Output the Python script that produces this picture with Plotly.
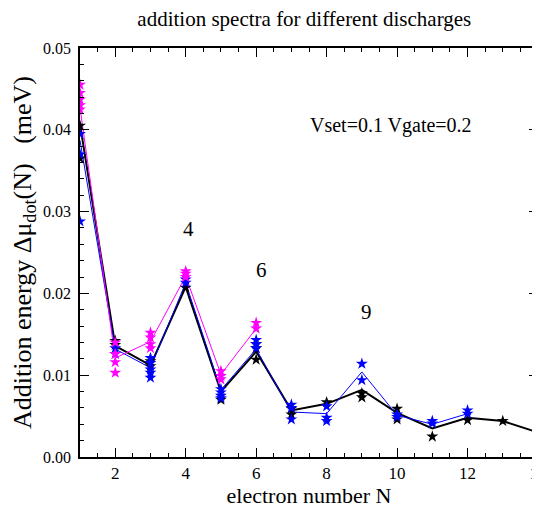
import plotly.graph_objects as go

# ---------------- data ----------------
magenta_N = [1, 2, 3, 4, 5, 6]
magenta_line = [0.0427, 0.0121, 0.0141, 0.0221, 0.0101, 0.0157]
magenta_pts = [[0.0455, 0.0445, 0.0437, 0.0430, 0.0425],
               [0.0140, 0.0126, 0.0116, 0.0103],
               [0.0152, 0.0146, 0.0138, 0.0133],
               [0.0227, 0.0224, 0.0220],
               [0.0105, 0.0099, 0.0095],
               [0.0164, 0.0157]]

blue_N = [1, 2, 3, 4, 5, 6, 7, 8, 9, 10, 11, 12]
blue_line = [0.0387, 0.0132, 0.0109, 0.0213, 0.0082, 0.0132,
             0.0055, 0.0053, 0.0104, 0.0051, 0.0040, 0.0053]
blue_pts = [[0.0395, 0.0370, 0.0288],
            [0.0133, 0.0126],
            [0.0121, 0.0115, 0.0107, 0.0103, 0.0097],
            [0.0217, 0.0213],
            [0.0083, 0.0079, 0.0075, 0.0072],
            [0.0143, 0.0138, 0.0133],
            [0.0064, 0.0060, 0.0046],
            [0.0062, 0.0048, 0.0044],
            [0.0114, 0.0094],
            [0.0052, 0.0049],
            [0.0044, 0.0041],
            [0.0057, 0.0053]]

black_N = [1, 2, 3, 4, 5, 6, 7, 8, 9, 10, 11, 12, 13, 14]
black_line = [0.0407, 0.0136, 0.0112, 0.0208, 0.0080, 0.0129, 0.0057,
              0.0065, 0.0082, 0.0054, 0.0035, 0.0048, 0.0044, 0.0030]
black_pts = [[0.0405, 0.0365],
             [0.0142, 0.0137],
             [0.0117, 0.0111],
             [0.0207],
             [0.0070],
             [0.0138, 0.0133, 0.0119],
             [0.0059, 0.0052],
             [0.0067],
             [0.0078, 0.0073],
             [0.0059, 0.0046],
             [0.0025],
             [0.0045],
             [0.0044],
             [0.0030]]

labels_N = [4.09, 6.14, 9.13]
labels_y = [0.0279, 0.0229, 0.0177]
labels_text = ["4", "6", "9"]

x_ticks = [2, 4, 6, 8, 10, 12, 14]

FONT = "Liberation Serif"
NB = "\u00a0"

fig = go.Figure()

series = [
    ("black", black_N, black_line, black_pts, 2.0),
    ("#0000ff", blue_N, blue_line, blue_pts, 1.0),
    ("#ff00ff", magenta_N, magenta_line, magenta_pts, 1.0),
]

for color, N, line, pts, w in series:
    fig.add_trace(go.Scatter(x=N, y=line, mode="lines",
                             line=dict(color=color, width=w),
                             showlegend=False, hoverinfo="skip"))
for color, N, line, pts, w in series:
    xs, ys = [], []
    for n, vals in zip(N, pts):
        for v in vals:
            xs.append(n)
            ys.append(v)
    fig.add_trace(go.Scatter(x=xs, y=ys, mode="markers",
                             marker=dict(symbol="star", size=9, color=color,
                                         line=dict(width=0)),
                             showlegend=False))

for n, y, t in zip(labels_N, labels_y, labels_text):
    fig.add_annotation(x=n, y=y, text=t, showarrow=False,
                       font=dict(family=FONT, size=21, color="black"),
                       xanchor="center", yanchor="middle")

fig.add_annotation(x=9.83, y=0.0405, text="Vset=0.1 Vgate=0.2", showarrow=False,
                   font=dict(family=FONT, size=20, color="black"),
                   xanchor="center", yanchor="middle")

# the page body has an 8px margin; figure sized so the plot area lands at
# x 80..538, y 48..457 of the 540x509 window
fig.update_layout(
    width=532, height=501,
    margin=dict(l=72, r=2, t=40, b=52, autoexpand=False),
    paper_bgcolor="white", plot_bgcolor="white",
    font=dict(family=FONT, size=16, color="black"),
    title=dict(text="addition spectra for different discharges",
               x=0.557, xanchor="center", y=0.979, yanchor="middle",
               font=dict(family=FONT, size=21, color="black")),
    showlegend=False,
)

fig.update_xaxes(
    range=[1, 14], tickmode="array", tickvals=x_ticks,
    ticks="inside", ticklen=9, tickwidth=1, tickcolor="black",
    minor=dict(dtick=0.5, tick0=0, ticks="inside", ticklen=4, tickcolor="black", tickwidth=1),
    showline=True, linecolor="black", linewidth=1.5, mirror="ticks",
    showgrid=False, zeroline=False, automargin=False, ticklabeloverflow="allow",
    tickfont=dict(family=FONT, size=17),
    title=dict(text="electron number N", font=dict(family=FONT, size=22), standoff=2),
)
fig.update_yaxes(
    range=[0, 0.05], dtick=0.01, tickformat=".2f",
    ticks="inside", ticklen=9, tickwidth=1, tickcolor="black",
    minor=dict(dtick=0.002, ticks="inside", ticklen=4, tickcolor="black", tickwidth=1),
    showline=True, linecolor="black", linewidth=1.5, mirror="ticks",
    showgrid=False, zeroline=False, automargin=False, ticklabeloverflow="allow",
    ticklabelstandoff=4,
    tickfont=dict(family=FONT, size=16),
    title=dict(text="Addition energy" + NB + "Δμ<sub>dot</sub>(N)" + NB * 3 + "(meV)",
               font=dict(family=FONT, size=26), standoff=4),
)

fig.write_html("out.html")
